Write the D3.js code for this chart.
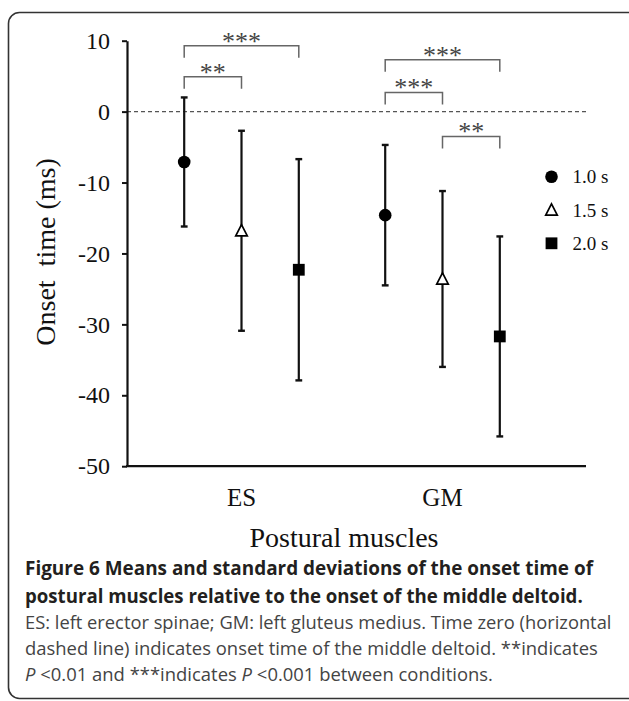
<!DOCTYPE html>
<html>
<head>
<meta charset="utf-8">
<script src="https://cdn.jsdelivr.net/npm/d3@7"></script>
<style>
  html, body { margin: 0; padding: 0; background: #fff; }
  svg { display: block; }
</style>
</head>
<body>
<svg id="chart" width="629" height="701"></svg>
<script>
// ---------------- data ----------------
const groups = ["ES", "GM"];
const conditions = ["1.0 s", "1.5 s", "2.0 s"];
const meanES = [-7.1, -16.8, -22.3];
const sdES = [9.1, 14.1, 15.6];
const meanGM = [-14.6, -23.6, -31.7];
const sdGM = [9.9, 12.4, 14.1];
const yTicks = [10, 0, -10, -20, -30, -40, -50];

const sigGroup = ["ES", "ES", "GM", "GM", "GM"];
const sigFrom = ["1.0 s", "1.0 s", "1.0 s", "1.0 s", "1.5 s"];
const sigTo = ["2.0 s", "1.5 s", "2.0 s", "1.5 s", "2.0 s"];
const sigLevel = [9.3, 4.9, 7.3, 2.7, -3.5];
const sigLabel = ["***", "**", "***", "***", "**"];

const yTitle = "Onset\u00a0 time (ms)";
const xTitle = "Postural muscles";
const captionBold = [
  "Figure 6 Means and standard deviations of the onset time of",
  "postural muscles relative to the onset of the middle deltoid."
];
const captionPlain = [
  [["ES: left erector spinae; GM: left gluteus medius. Time zero (horizontal", false]],
  [["dashed line) indicates onset time of the middle deltoid. **indicates", false]],
  [["P", true], [" <0.01 and ***indicates ", false], ["P", true], [" <0.001 between conditions.", false]]
];

// ---------------- layout ----------------
const svg = d3.select("#chart");
const serif = "'Liberation Serif', 'Times New Roman', serif";
const sans = "'Open Sans', 'Noto Sans', sans-serif";

const plotLeft = 127, plotRight = 586;
const y = d3.scaleLinear().domain([-50, 10]).range([466.2, 40.7]);
const xGroup = d3.scaleBand().domain(groups).range([141, 543]).padding(0);
const xCond = d3.scalePoint().domain(conditions).range([-57.3, 57.3]);
const xPos = (g, c) => xGroup(g) + xGroup.bandwidth() / 2 + xCond(c);

// frame
svg.append("rect")
  .attr("x", 8.5).attr("y", 12.5)
  .attr("width", 700).attr("height", 686)
  .attr("rx", 11).attr("ry", 11)
  .attr("fill", "none").attr("stroke", "#333").attr("stroke-width", 1.6);

// zero dashed line
svg.append("line")
  .attr("x1", plotLeft).attr("x2", plotRight)
  .attr("y1", y(0)).attr("y2", y(0))
  .attr("stroke", "#555").attr("stroke-width", 1.2)
  .attr("stroke-dasharray", "4,3");

// y axis
const yAxis = svg.append("g")
  .attr("transform", `translate(${plotLeft},0)`)
  .call(d3.axisLeft(y).tickValues(yTicks).tickSize(5).tickSizeOuter(0)
    .tickPadding(12).tickFormat(d => String(d)));
yAxis.select(".domain").attr("stroke", "#111").attr("stroke-width", 2.2);
yAxis.selectAll(".tick line").attr("stroke", "#111").attr("stroke-width", 2);
yAxis.selectAll(".tick text")
  .attr("font-family", serif).attr("font-size", 24).attr("fill", "#111");

// x axis line
svg.append("line")
  .attr("x1", plotLeft - 1).attr("x2", plotRight)
  .attr("y1", y(-50)).attr("y2", y(-50))
  .attr("stroke", "#111").attr("stroke-width", 2.2);

// group labels
svg.selectAll(".glabel").data(groups).enter().append("text")
  .attr("class", "glabel")
  .attr("x", g => xGroup(g) + xGroup.bandwidth() / 2)
  .attr("y", 506)
  .attr("text-anchor", "middle")
  .attr("font-family", serif).attr("font-size", 25).attr("fill", "#111")
  .text(g => g);

// axis titles
svg.append("text")
  .attr("x", 344).attr("y", 547)
  .attr("text-anchor", "middle")
  .attr("font-family", serif).attr("font-size", 28).attr("fill", "#111")
  .text(xTitle);

svg.append("text")
  .attr("transform", "translate(55,252) rotate(-90)")
  .attr("text-anchor", "middle")
  .attr("font-family", serif).attr("font-size", 28).attr("fill", "#111")
  .text(yTitle);

// points data
const points = [];
groups.forEach((g, gi) => {
  const m = gi === 0 ? meanES : meanGM;
  const s = gi === 0 ? sdES : sdGM;
  conditions.forEach((c, ci) => points.push({ g, c, ci, mean: m[ci], sd: s[ci] }));
});

// error bars
const eb = svg.append("g");
points.forEach(p => {
  const x = xPos(p.g, p.c);
  eb.append("line").attr("x1", x).attr("x2", x)
    .attr("y1", y(p.mean + p.sd)).attr("y2", y(p.mean - p.sd))
    .attr("stroke", "#111").attr("stroke-width", 2.2);
  [p.mean + p.sd, p.mean - p.sd].forEach(v => {
    eb.append("line").attr("x1", x - 3.4).attr("x2", x + 3.4)
      .attr("y1", y(v)).attr("y2", y(v))
      .attr("stroke", "#111").attr("stroke-width", 2.4);
  });
});

// markers
function drawMarker(sel, ci, x, yy) {
  if (ci === 0) {
    sel.append("circle").attr("cx", x).attr("cy", yy).attr("r", 6.3).attr("fill", "#000");
  } else if (ci === 1) {
    const w = 11.6, h = 10.4;
    sel.append("path")
      .attr("d", `M${x},${yy - h / 2 - 1}L${x + w / 2},${yy + h / 2}L${x - w / 2},${yy + h / 2}Z`)
      .attr("fill", "#fff").attr("stroke", "#000").attr("stroke-width", 1.7);
  } else {
    const s = 11.8;
    sel.append("rect").attr("x", x - s / 2).attr("y", yy - s / 2)
      .attr("width", s).attr("height", s).attr("fill", "#000");
  }
}
const mk = svg.append("g");
points.forEach(p => drawMarker(mk, p.ci, xPos(p.g, p.c), y(p.mean)));

// significance brackets
const br = svg.append("g");
sigLabel.forEach((lab, i) => {
  const x1 = xPos(sigGroup[i], sigFrom[i]);
  const x2 = xPos(sigGroup[i], sigTo[i]);
  const yy = y(sigLevel[i]);
  br.append("path")
    .attr("d", `M${x1},${yy + 12}V${yy}H${x2}V${yy + 12}`)
    .attr("fill", "none").attr("stroke", "#666").attr("stroke-width", 1.5);
  br.append("text")
    .attr("x", (x1 + x2) / 2).attr("y", yy + 4)
    .attr("text-anchor", "middle")
    .attr("font-family", serif).attr("font-size", 26)
    .attr("fill", "#444").text(lab);
});

// legend
const legY = [176.7, 210, 243.3];
const lg = svg.append("g");
conditions.forEach((c, ci) => {
  drawMarker(lg, ci, 551.5, legY[ci]);
  lg.append("text").attr("x", 572.5).attr("y", legY[ci] + 6.5)
    .attr("font-family", serif).attr("font-size", 19).attr("fill", "#111")
    .text(c);
});

// caption (each line horizontally fitted to its width in the reference)
function fitLine(t, x, yy, w) {
  const natural = t.node().getComputedTextLength();
  const s = w / natural;
  t.attr("transform", `translate(${x},${yy}) scale(${s},1)`);
}
const boldY = [575, 603];
const boldW = [568, 558];
captionBold.forEach((txt, i) => {
  const t = svg.append("text")
    .attr("x", 0).attr("y", 0)
    .attr("font-family", sans).attr("font-weight", "bold").attr("font-size", 20)
    .attr("fill", "#231f20")
    .text(txt);
  fitLine(t, 25, boldY[i], boldW[i]);
});
const plainY = [629, 655, 681];
const plainW = [587, 573, 468];
captionPlain.forEach((parts, i) => {
  const t = svg.append("text")
    .attr("x", 0).attr("y", 0)
    .attr("font-family", sans).attr("font-size", 18)
    .attr("fill", "#444")
    .style("white-space", "pre");
  parts.forEach(([s, it]) => {
    t.append("tspan").attr("font-style", it ? "italic" : "normal").text(s);
  });
  fitLine(t, 25, plainY[i], plainW[i]);
});
</script>
</body>
</html>
